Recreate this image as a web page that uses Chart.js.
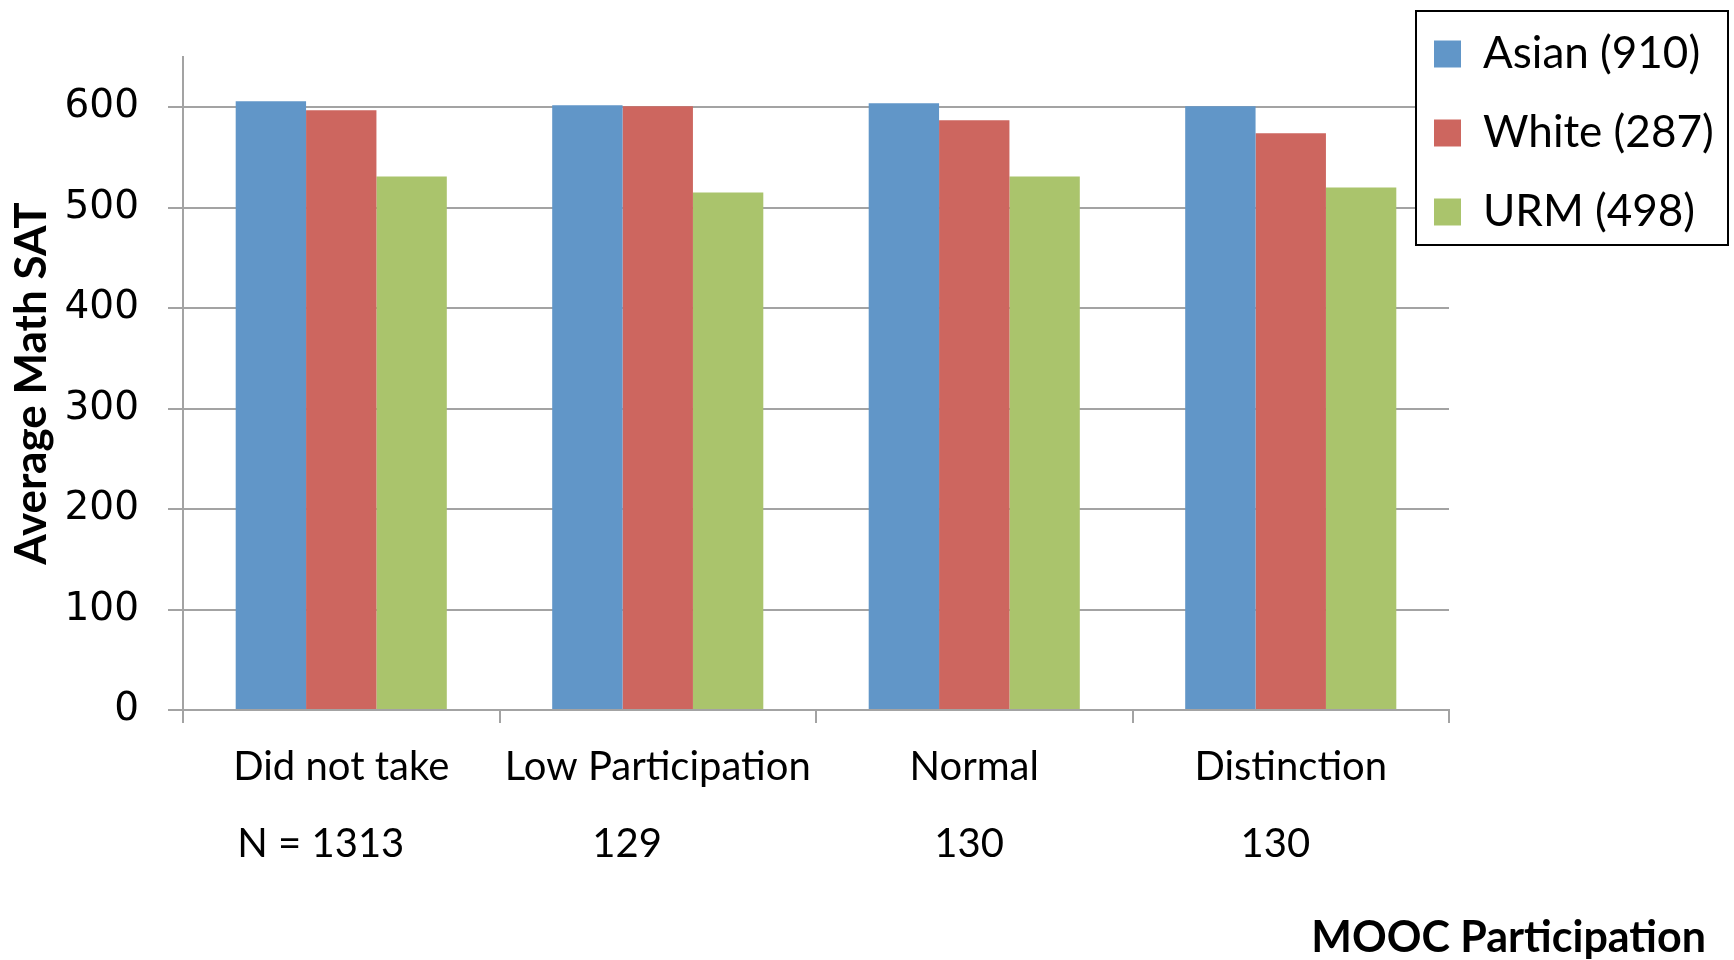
<!DOCTYPE html>
<html lang="en">
<head>
    <meta charset="UTF-8">
    <title>Average Math SAT by MOOC Participation</title>
    <script src="https://cdn.jsdelivr.net/npm/chart.js"></script>
    <style>
        html, body { margin: 0; padding: 0; background: #fff; }
        #wrap { width: 1734px; height: 960px; }
    </style>
</head>
<body>
    <div id="wrap"><canvas id="satChart" width="1734" height="960"></canvas></div>

    <script>
        const categories = ['Did not take', 'Low Participation', 'Normal', 'Distinction'];
        const nLabels = ['N = 1313', '129', '130', '130'];
        const seriesNames = ['Asian (910)', 'White (287)', 'URM (498)'];
        const asian = [606, 602, 604, 601];
        const white = [597, 601, 587, 574];
        const urm = [531, 515, 531, 520];
        const yTicks = [0, 100, 200, 300, 400, 500, 600];

        // N labels sit a little left of the category centre in the original
        const nShift = [4, 6, 1, 3];
        const labels = categories.map((c, i) => [c, nLabels[i] + ' '.repeat(nShift[i])]);

        const gridGray = '#a3a3a3';

        // legend sits over the top right corner, with a black frame
        const legendPlacer = {
            id: 'legendPlacer',
            afterLayout(chart) {
                const lg = chart.legend;
                lg.left = 1399;
                lg.top = -3;
                lg.width = 330;
                lg.height = 320;
                lg.right = lg.left + lg.width;
                lg.bottom = lg.top + lg.height;
            },
            afterDraw(chart) {
                const ctx = chart.ctx;
                ctx.save();
                ctx.fillStyle = '#fff';
                ctx.fillRect(1416, 11, 312, 234);
                ctx.strokeStyle = '#000';
                ctx.lineWidth = 2;
                ctx.strokeRect(1416, 11, 312, 234);
                ctx.restore();
                chart.legend.draw();
            }
        };

        const ctx = document.getElementById('satChart').getContext('2d');
        new Chart(ctx, {
            type: 'bar',
            data: {
                labels: labels,
                datasets: [
                    { label: seriesNames[0], data: asian, backgroundColor: '#6196c8', borderWidth: 0 },
                    { label: seriesNames[1], data: white, backgroundColor: '#cd665f', borderWidth: 0 },
                    { label: seriesNames[2], data: urm, backgroundColor: '#aac46c', borderWidth: 0 }
                ]
            },
            options: {
                responsive: false,
                animation: false,
                layout: { padding: { top: 57, right: 28, bottom: 0, left: 0 } },
                datasets: {
                    bar: { categoryPercentage: 0.667, barPercentage: 1.0 }
                },
                plugins: {
                    tooltip: { enabled: false },
                    legend: {
                        position: 'right',
                        align: 'start',
                        maxWidth: 257,
                        labels: {
                            boxWidth: 27,
                            boxHeight: 27,
                            padding: 35,
                            color: '#000',
                            font: { family: 'Lato', size: 44 }
                        }
                    },
                    title: {
                        display: true,
                        position: 'bottom',
                        align: 'end',
                        text: 'MOOC Participation',
                        color: '#000',
                        padding: { top: 0, bottom: 0 },
                        font: { family: 'Lato', size: 43, weight: 'bold', lineHeight: 1 }
                    }
                },
                scales: {
                    x: {
                        type: 'category',
                        offset: true,
                        afterFit: s => { s.height = 207; },
                        grid: {
                            offset: true,
                            drawOnChartArea: false,
                            drawTicks: true,
                            tickLength: 13,
                            color: gridGray,
                            lineWidth: 2
                        },
                        border: { display: true, color: gridGray, width: 2 },
                        ticks: {
                            color: '#000',
                            padding: 6,
                            maxRotation: 0,
                            autoSkip: false,
                            font: { family: 'Lato', size: 40, lineHeight: '77px' }
                        }
                    },
                    y: {
                        min: 0,
                        max: 650,
                        afterFit: s => { s.width = 183; },
                        afterBuildTicks: s => {
                            s.ticks = yTicks.map(v => ({ value: v }));
                        },
                        grid: {
                            color: gridGray,
                            lineWidth: 2,
                            drawTicks: true,
                            tickLength: 15
                        },
                        border: { display: true, color: gridGray, width: 2 },
                        ticks: {
                            color: '#000',
                            padding: 29,
                            font: { family: 'DejaVu Sans', size: 39 }
                        },
                        title: {
                            display: true,
                            text: 'Average Math SAT',
                            color: '#000',
                            padding: { top: 5, bottom: 0 },
                            font: { family: 'Lato', size: 44, weight: 'bold' }
                        }
                    }
                }
            },
            plugins: [legendPlacer]
        });
    </script>
</body>
</html>
